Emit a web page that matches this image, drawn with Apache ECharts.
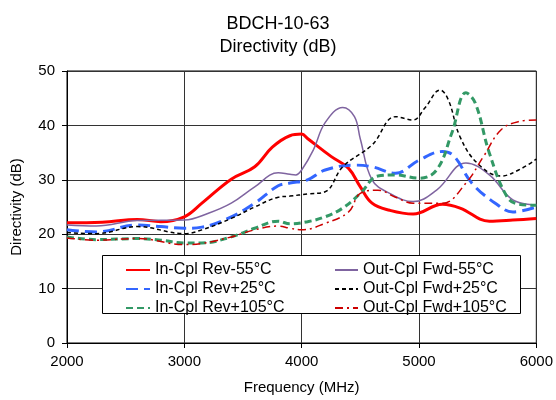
<!DOCTYPE html>
<html>
<head>
<meta charset="utf-8">
<script src="https://cdn.jsdelivr.net/npm/echarts@6/dist/echarts.min.js"></script>
<style>
  html, body { margin: 0; padding: 0; background: #fff; }
  #chart { width: 556px; height: 400px; }
</style>
</head>
<body>
<div id="chart"></div>
<script>
// 数据 (MHz, dB)
const xTicks = [2000, 3000, 4000, 5000, 6000]
const yTicks = [0, 10, 20, 30, 40, 50]

const inRevM55Freq = [2000, 2300, 2600, 2800, 3000, 3150, 3400, 3600, 3750, 3900, 4000, 4050, 4250, 4400, 4500, 4600, 4750, 4950, 5200, 5350, 5600, 5800, 6000]
const inRevM55 = [22.1, 22.2, 22.7, 22.3, 23.2, 25.7, 30.1, 32.4, 36.0, 38.1, 38.4, 37.6, 34.3, 32.1, 28.7, 25.7, 24.4, 23.7, 25.5, 24.8, 22.4, 22.6, 22.9]

const outFwdM55Freq = [2000, 2250, 2600, 3000, 3200, 3400, 3600, 3800, 3900, 3950, 4000, 4100, 4200, 4350, 4450, 4500, 4600, 4750, 4950, 5150, 5400, 5600, 5800, 6000]
const outFwdM55 = [21.7, 21.5, 22.5, 22.6, 23.8, 25.7, 28.7, 31.3, 31.0, 30.9, 31.8, 35.5, 40.5, 43.3, 41.6, 37.5, 30.0, 27.5, 26.0, 28.1, 33.1, 30.9, 26.3, 25.4]

const inRevP25Freq = [2000, 2250, 2600, 2800, 3000, 3150, 3400, 3600, 3800, 3900, 4050, 4200, 4450, 4600, 4800, 5000, 5200, 5300, 5450, 5650, 5800, 6000]
const inRevP25 = [20.8, 20.4, 21.7, 21.4, 21.1, 21.3, 23.2, 25.7, 28.9, 29.4, 30.0, 31.8, 32.7, 32.4, 31.2, 33.6, 35.2, 34.3, 29.4, 25.7, 24.1, 25.0]

const outFwdP25Freq = [2000, 2250, 2600, 3000, 3150, 3400, 3600, 3800, 3900, 4050, 4200, 4350, 4600, 4800, 4950, 5050, 5180, 5250, 5350, 5500, 5700, 5850, 6000]
const outFwdP25 = [20.3, 20.1, 21.4, 20.1, 20.8, 22.9, 25.0, 26.8, 27.0, 27.4, 27.8, 32.4, 36.4, 41.6, 41.0, 43.2, 46.5, 44.7, 37.9, 33.0, 30.7, 31.8, 33.8]

const inRevP105Freq = [2000, 2250, 2600, 2800, 3000, 3150, 3400, 3600, 3800, 3900, 4050, 4200, 4350, 4500, 4650, 4800, 5000, 5150, 5280, 5400, 5480, 5600, 5750, 5850, 6000]
const inRevP105 = [19.5, 19.0, 19.2, 18.9, 18.4, 18.4, 19.5, 21.1, 22.4, 21.9, 22.3, 23.2, 24.8, 27.5, 30.7, 30.9, 30.3, 31.8, 38.6, 46.0, 44.1, 34.9, 26.9, 25.5, 25.3]

const outFwdP105Freq = [2000, 2250, 2600, 3000, 3150, 3400, 3600, 3800, 3900, 4000, 4200, 4400, 4500, 4650, 4800, 4950, 5200, 5400, 5550, 5700, 5850, 6000]
const outFwdP105 = [19.3, 18.9, 19.2, 18.1, 18.3, 19.5, 20.8, 21.5, 21.1, 20.8, 22.0, 24.1, 27.5, 28.1, 26.8, 25.7, 25.7, 29.4, 34.3, 39.2, 40.7, 41.0]

const pairs = (fs, vs) => fs.map((f, i) => [f, vs[i]])
const font = 'Liberation Sans, Arial, sans-serif'

const mkSeries = (name, fs, vs, color, width, type) => ({
  name,
  type: 'line',
  smooth: 0.4,
  symbol: 'none',
  z: 2,
  lineStyle: { color, width, type },
  itemStyle: { color },
  data: pairs(fs, vs),
})

const chart = echarts.init(document.getElementById('chart'))

const legendText = { fontFamily: font, fontSize: 16, color: '#000', lineHeight: 16 }
const axisText = { fontFamily: font, fontSize: 15, color: '#000' }

chart.setOption({
  animation: false,
  title: {
    text: 'BDCH-10-63\nDirectivity (dB)',
    left: 'center',
    top: 8,
    textStyle: { fontFamily: font, fontSize: 18, fontWeight: 'normal', color: '#000', lineHeight: 23 },
  },
  grid: { left: 67, right: 18, top: 71, bottom: 57, show: true, borderColor: '#000', borderWidth: 1 },
  xAxis: {
    type: 'value',
    min: xTicks[0],
    max: xTicks[xTicks.length - 1],
    interval: 1000,
    name: 'Frequency (MHz)',
    nameLocation: 'middle',
    nameGap: 37,
    nameTextStyle: axisText,
    axisLine: { show: true, lineStyle: { color: '#000' } },
    axisTick: { show: true, length: 5, lineStyle: { color: '#000' } },
    axisLabel: { ...axisText, margin: 11, formatter: (v) => String(v) },
    splitLine: { show: true, lineStyle: { color: '#333', width: 1 } },
  },
  yAxis: {
    type: 'value',
    min: yTicks[0],
    max: yTicks[yTicks.length - 1],
    interval: 10,
    name: 'Directivity (dB)',
    nameLocation: 'middle',
    nameGap: 43,
    nameTextStyle: axisText,
    axisLine: { show: true, lineStyle: { color: '#000' } },
    axisTick: { show: true, length: 5, lineStyle: { color: '#000' } },
    axisLabel: { ...axisText, margin: 12 },
    splitLine: { show: true, lineStyle: { color: '#333', width: 1 } },
  },
  graphic: [
    {
      type: 'rect',
      left: 102,
      top: 255,
      z: 3,
      shape: { width: 418, height: 58 },
      style: { fill: '#fff', stroke: '#000', lineWidth: 1 },
    },
  ],
  legend: [
    {
      orient: 'vertical',
      left: 120,
      top: 257,
      z: 5,
      itemWidth: 24,
      itemHeight: 14,
      itemGap: 3,
      itemStyle: { opacity: 0 },
      textStyle: legendText,
      data: ['In-Cpl Rev-55°C', 'In-Cpl Rev+25°C', 'In-Cpl Rev+105°C'],
    },
    {
      orient: 'vertical',
      left: 329,
      top: 257,
      z: 5,
      itemWidth: 23,
      itemHeight: 14,
      itemGap: 3,
      itemStyle: { opacity: 0 },
      textStyle: legendText,
      data: ['Out-Cpl Fwd-55°C', 'Out-Cpl Fwd+25°C', 'Out-Cpl Fwd+105°C'],
    },
  ],
  series: [
    mkSeries('In-Cpl Rev-55°C', inRevM55Freq, inRevM55, '#ff0000', 3, 'solid'),
    mkSeries('Out-Cpl Fwd-55°C', outFwdM55Freq, outFwdM55, '#7f64a0', 1.5, 'solid'),
    mkSeries('In-Cpl Rev+25°C', inRevP25Freq, inRevP25, '#3366ff', 3, [12, 6]),
    mkSeries('Out-Cpl Fwd+25°C', outFwdP25Freq, outFwdP25, '#000000', 1.5, [4, 3]),
    mkSeries('In-Cpl Rev+105°C', inRevP105Freq, inRevP105, '#339966', 3, [7, 4]),
    mkSeries('Out-Cpl Fwd+105°C', outFwdP105Freq, outFwdP105, '#cc0000', 1.5, [8, 4, 2, 4]),
  ],
})
</script>
</body>
</html>
